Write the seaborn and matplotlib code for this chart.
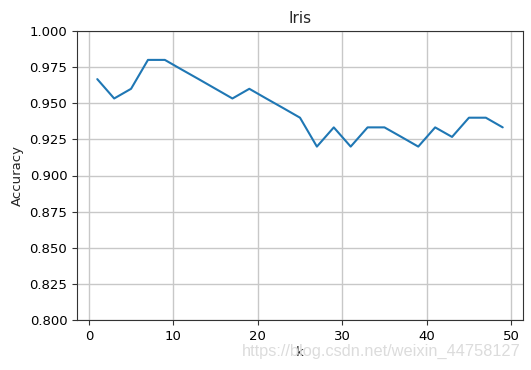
import pandas as pd
import seaborn as sns
import matplotlib.pyplot as plt

# k values and test accuracy
k_values = [1, 3, 5, 7, 9, 11, 13, 15, 17, 19, 21, 23, 25,
            27, 29, 31, 33, 35, 37, 39, 41, 43, 45, 47, 49]
accuracy = [0.9667, 0.9533, 0.9600, 0.9800, 0.9800, 0.9733, 0.9667, 0.9600, 0.9533,
            0.9600, 0.9533, 0.9467, 0.9400, 0.9200, 0.9333, 0.9200, 0.9333, 0.9333,
            0.9267, 0.9200, 0.9333, 0.9267, 0.9400, 0.9400, 0.9333]

df = pd.DataFrame({'k': k_values, 'Accuracy': accuracy})

sns.set_style('ticks')
plt.rcParams['font.family'] = ['DejaVu Sans']

fig = plt.figure(figsize=(5.31, 3.70), dpi=100)
ax = fig.add_axes([77 / 531, 50 / 370, 446 / 531, 289 / 370])

sns.lineplot(data=df, x='k', y='Accuracy', color='#1f77b4', linewidth=1.5, ax=ax)

ax.set_ylim(0.8, 1.0)
ax.set_yticks([0.8, 0.825, 0.85, 0.875, 0.9, 0.925, 0.95, 0.975, 1.0])
ax.set_xticks([0, 10, 20, 30, 40, 50])
ax.grid(True, color='#c8c8c8', linewidth=1)
for s in ax.spines.values():
    s.set_color('#333333')
ax.tick_params(labelsize=9.5, colors='#333333', labelcolor='black')

ax.set_title('Iris', fontsize=11)
ax.set_xlabel('k', fontsize=9.5, labelpad=2)
ax.set_ylabel('Accuracy', fontsize=9.5)

# csdn watermark
fig.text(0.98, 0.03, 'https://blog.csdn.net/weixin_44758127', ha='right', va='bottom',
         fontsize=11.8, color='#dcdcdc', family=['Liberation Sans'])

plt.savefig('out.png', dpi=100)
